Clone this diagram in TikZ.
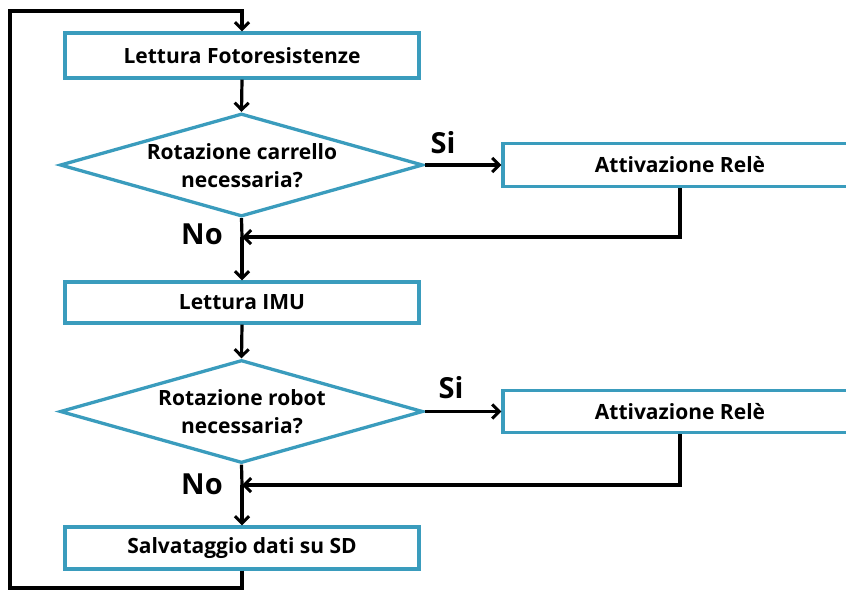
\documentclass[tikz,border=0pt]{standalone}
\usepackage{fontspec}
\setmainfont{Open Sans}
\usetikzlibrary{arrows.meta,shapes.geometric}
\definecolor{boxteal}{RGB}{58,156,189}
\tikzset{
  x=1pt, y=-1pt,
  proc/.style={draw=boxteal, line width=3.3pt, fill=white, minimum width=354pt,
    inner sep=0pt, font=\fontsize{21}{25}\selectfont\bfseries},
  cond/.style={draw=boxteal, line width=3.3pt, fill=white, diamond, aspect=3.52,
    minimum width=363pt, minimum height=103pt, inner sep=0pt},
  condtext/.style={align=center, inner sep=0pt,
    font=\fontsize{21}{28}\selectfont\bfseries},
  flow/.style={line width=3.2pt, -{Straight Barb[length=7pt,width=14pt,line width=3pt]}},
  plain/.style={line width=3.2pt},
  answer/.style={inner sep=0pt, font=\fontsize{29}{32}\selectfont\bfseries}
}
\begin{document}
\begin{tikzpicture}
\path[use as bounding box] (0,0) rectangle (846,590);
\clip (0,0) rectangle (846,590);

% main column of steps
\node[proc, minimum height=45pt] (foto) at (242,55.5) {Lettura Fotoresistenze};
\node[cond] (d1) at (241.5,165) {};
\node[condtext] (d1t) at (242,166) {Rotazione carrello\\necessaria?};
\node[proc, minimum height=41pt] (imu) at (242,302.5) {Lettura IMU};
\node[cond] (d2) at (241.5,411.5) {};
\node[condtext] (d2t) at (242,412) {Rotazione robot\\necessaria?};
\node[proc, minimum height=42pt] (sd) at (242,548) {Salvataggio dati su SD};

% relay activations on the right
\node[proc, minimum height=43pt] (rele1) at (680,165) {Attivazione Relè};
\node[proc, minimum height=42pt] (rele2) at (680,411.5) {Attivazione Relè};

% branch labels
\node[answer] (si1) at (443,143) {Si};
\node[answer] (no1) at (202,234) {No};
\node[answer] (si2) at (451,388) {Si};
\node[answer] (no2) at (202,484) {No};

% join points and loop corners
\coordinate (j1) at (242,237);
\coordinate (j2) at (242,485);
\coordinate (lb) at (10,588);
\coordinate (lt) at (10,11);

% connectors
\draw[flow] (foto.south) -- (d1.north);
\draw[flow] (d1.east) -- (rele1.west);
\draw[plain] (d1.south) -- (j1);
\draw[flow] (j1) -- (imu.north);
\draw[flow] (rele1.south) |- (j1);
\draw[flow] (imu.south) -- (d2.north);
\draw[flow] (d2.east) -- (rele2.west);
\draw[plain] (d2.south) -- (j2);
\draw[flow] (j2) -- (sd.north);
\draw[flow] (rele2.south) |- (j2);
\draw[flow] (sd.south) |- (lb) |- (lt) -| (foto.north);
\end{tikzpicture}
\end{document}
